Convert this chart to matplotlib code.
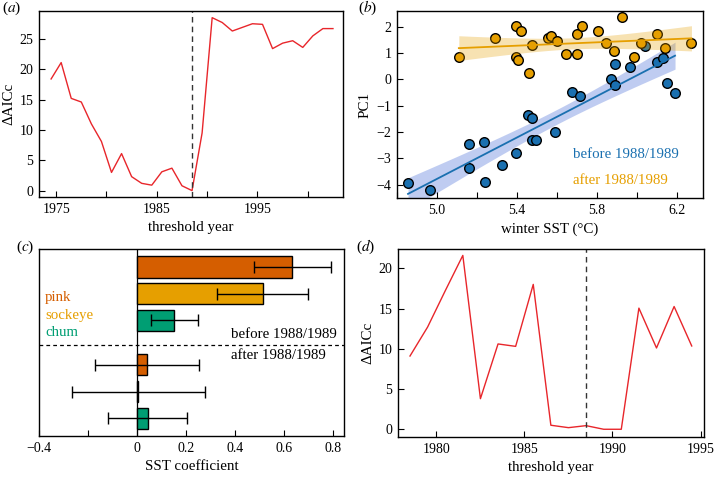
import numpy as np
import matplotlib
matplotlib.use("Agg")
import matplotlib.pyplot as plt

plt.rcParams['font.family'] = ['Liberation Serif', 'DejaVu Serif']
plt.rcParams['mathtext.fontset'] = 'stix'
plt.rcParams['axes.unicode_minus'] = True

# ---- panel (a) data ----
years_a = [1974.5, 1975.5, 1976.5, 1977.5, 1978.5, 1979.5, 1980.5, 1981.5, 1982.5, 1983.5,
           1984.5, 1985.5, 1986.5, 1987.5, 1988.5, 1989.5, 1990.5, 1991.5, 1992.5, 1993.5,
           1994.5, 1995.5, 1996.5, 1997.5, 1998.5, 1999.5, 2000.5, 2001.5, 2002.5]
daic_a = [18.4, 21.1, 15.2, 14.6, 11.0, 8.1, 3.0, 6.1, 2.3, 1.2,
          0.9, 3.1, 3.7, 0.8, 0.0, 9.5, 28.5, 27.7, 26.3, 26.9,
          27.5, 27.4, 23.4, 24.3, 24.7, 23.6, 25.5, 26.7, 26.7]
threshold_a = 1988.5

# ---- panel (b) data ----
sst_before = [4.855, 4.967, 5.159, 5.159, 5.234, 5.239, 5.325, 5.394, 5.456, 5.474,
              5.474, 5.497, 5.589, 5.677, 5.714, 5.872, 5.889, 5.889, 5.967, 6.04,
              6.10, 6.13, 6.15, 6.19]
pc1_before = [-3.93, -4.21, -2.46, -3.36, -2.37, -3.88, -3.26, -2.78, -1.36, -1.46,
              -2.31, -2.28, -1.99, -0.47, -0.62, 0.01, -0.22, 0.57, 0.48, 1.28,
              0.67, 0.82, -0.15, -0.53]
sst_after = [5.109, 5.289, 5.397, 5.419, 5.394, 5.405, 5.475, 5.459, 5.555, 5.572,
             5.60, 5.644, 5.702, 5.702, 5.725, 5.805, 5.847, 5.884, 5.925, 5.985,
             6.019, 6.10, 6.142, 6.272]
pc1_after = [0.84, 1.56, 2.04, 1.84, 0.86, 0.73, 1.30, 0.24, 1.58, 1.65,
             1.46, 0.96, 0.96, 1.71, 2.04, 1.85, 1.39, 1.09, 2.36, 0.84,
             1.39, 1.71, 1.18, 1.39]

# ---- panel (c) data ----
species = ['pink', 'sockeye', 'chum']
coef_before = [0.635, 0.514, 0.151]
lo_before = [0.479, 0.329, 0.059]
hi_before = [0.792, 0.699, 0.249]
coef_after = [0.041, 0.004, 0.044]
lo_after = [-0.170, -0.265, -0.118]
hi_after = [0.254, 0.278, 0.205]
c_xticks = [-0.4, -0.2, 0.0, 0.2, 0.4, 0.6, 0.8]
c_xticklabels = ['\u22120.4', '', '0', '0.2', '0.4', '0.6', '0.8']

# ---- panel (d) data ----
years_d = [1978.5, 1979.5, 1980.5, 1981.5, 1982.5, 1983.5, 1984.5, 1985.5, 1986.5,
           1987.5, 1988.5, 1989.5, 1990.5, 1991.5, 1992.5, 1993.5, 1994.5]
daic_d = [9.1, 12.7, 17.2, 21.6, 3.8, 10.6, 10.3, 18.0, 0.5,
          0.2, 0.45, 0.0, 0.0, 15.05, 10.1, 15.25, 10.35]
threshold_d = 1988.5

RED = '#e8262b'
BLUE = '#1a70b0'
ORANGE = '#e69f00'
VERM = '#d55e00'
GREEN = '#009e73'
spec_colors = [VERM, ORANGE, GREEN]

TICK_FS = 10
LAB_FS = 10.8
TXT_FS = 10.7

fig = plt.figure(figsize=(7.16, 4.80), dpi=100)
ax_a = fig.add_axes([0.0545, 0.5896, 0.4246, 0.3875])
ax_b = fig.add_axes([0.5545, 0.5875, 0.4274, 0.3896])
ax_c = fig.add_axes([0.0545, 0.0917, 0.426, 0.3896])
ax_d = fig.add_axes([0.5559, 0.0896, 0.4274, 0.3917])

for ax in (ax_a, ax_b, ax_c, ax_d):
    ax.tick_params(direction='in', length=4, width=0.8, labelsize=TICK_FS, pad=4)
    for s in ax.spines.values():
        s.set_linewidth(1.0)

# (a)
ax_a.plot(years_a, daic_a, color=RED, lw=1.0)
ax_a.axvline(threshold_a, color='#333333', lw=1.0, ls=(0, (4, 3)))
ax_a.set_xlim(1973.3, 2003.5)
ax_a.set_ylim(-1.05, 29.6)
ax_a.set_xticks([1975, 1980, 1985, 1990, 1995, 2000])
ax_a.set_xticklabels(['1975', '', '1985', '', '1995', ''])
ax_a.set_yticks([0, 5, 10, 15, 20, 25])
ax_a.set_xlabel('threshold year', fontsize=LAB_FS, labelpad=4)
ax_a.set_ylabel('\u0394AICc', fontsize=LAB_FS, labelpad=3)

# (b)
def fit_band(x, y):
    x = np.asarray(x); y = np.asarray(y)
    n = len(x)
    b, a = np.polyfit(x, y, 1)
    xs = np.linspace(x.min(), x.max(), 100)
    yh = a + b * xs
    resid = y - (a + b * x)
    s = np.sqrt(np.sum(resid ** 2) / (n - 2))
    sxx = np.sum((x - x.mean()) ** 2)
    se = s * np.sqrt(1.0 / n + (xs - x.mean()) ** 2 / sxx)
    return xs, yh, yh - 2.074 * se, yh + 2.074 * se

xs, yh, ylo, yhi = fit_band(sst_before, pc1_before)
ax_b.fill_between(xs, ylo, yhi, color='#4a6fd8', alpha=0.35, lw=0, zorder=1)
ax_b.plot(xs, yh, color=BLUE, lw=1.3, zorder=4)
xs2, yh2, ylo2, yhi2 = fit_band(sst_after, pc1_after)
ax_b.scatter(sst_before, pc1_before, s=48, color=BLUE, edgecolor='black', lw=1.0, zorder=2)
ax_b.scatter(sst_after, pc1_after, s=48, color=ORANGE, edgecolor='black', lw=1.0, zorder=2)
ax_b.fill_between(xs2, ylo2, yhi2, color=ORANGE, alpha=0.3, lw=0, zorder=3)
ax_b.plot(xs2, yh2, color=ORANGE, lw=1.3, zorder=4)
ax_b.set_xlim(4.80, 6.33)
ax_b.set_ylim(-4.5, 2.6)
ax_b.set_xticks([4.8, 5.0, 5.2, 5.4, 5.6, 5.8, 6.0, 6.2])
ax_b.set_xticklabels(['', '5.0', '', '5.4', '', '5.8', '', '6.2'])
ax_b.set_yticks([-4, -3, -2, -1, 0, 1, 2])
ax_b.set_xlabel('winter SST (\u00b0C)', fontsize=LAB_FS, labelpad=4)
ax_b.set_ylabel('PC1', fontsize=LAB_FS, labelpad=4)
ax_b.text(0.574, 0.23, 'before 1988/1989', color=BLUE, fontsize=TXT_FS, transform=ax_b.transAxes, va='center')
ax_b.text(0.574, 0.096, 'after 1988/1989', color=ORANGE, fontsize=TXT_FS, transform=ax_b.transAxes, va='center')

# (c)
pos_before = [0, 1, 2]
pos_after = [3.66, 4.66, 5.66]
for vals, lo, hi, pos in ((coef_before, lo_before, hi_before, pos_before),
                          (coef_after, lo_after, hi_after, pos_after)):
    vals = np.array(vals)
    xerr = np.array([vals - np.array(lo), np.array(hi) - vals])
    ax_c.barh(pos, vals, height=0.8, color=spec_colors, edgecolor='black', lw=1.0, zorder=2)
    ax_c.errorbar(vals, pos, xerr=xerr, fmt='none', ecolor='black', elinewidth=1.0,
                  capsize=4.5, capthick=1.0, zorder=3)
ax_c.axvline(0, color='black', lw=0.9, zorder=1)
ax_c.axhline(2.916, color='black', lw=0.9, ls=(0, (3, 2.5)), zorder=1)
ax_c.set_ylim(6.325, -0.675)
ax_c.set_xlim(-0.4, 0.846)
ax_c.set_yticks([])
ax_c.set_xticks(c_xticks)
ax_c.set_xticklabels(c_xticklabels)
ax_c.set_xlabel('SST coefficient', fontsize=LAB_FS, labelpad=4)
for i, (name, col) in enumerate(zip(species, spec_colors)):
    ax_c.text(0.02, 0.738 - i * 0.0935, name, color=col, fontsize=TXT_FS,
              transform=ax_c.transAxes, va='center')
ax_c.text(0.631, 0.54, 'before 1988/1989', fontsize=TXT_FS, transform=ax_c.transAxes, va='center')
ax_c.text(0.631, 0.428, 'after 1988/1989', fontsize=TXT_FS, transform=ax_c.transAxes, va='center')

# (d)
ax_d.plot(years_d, daic_d, color=RED, lw=1.0)
ax_d.axvline(threshold_d, color='#333333', lw=1.0, ls=(0, (4, 3)))
ax_d.set_xlim(1977.82, 1995.2)
ax_d.set_ylim(-0.96, 22.4)
ax_d.set_xticks([1980, 1985, 1990, 1995])
ax_d.set_yticks([0, 5, 10, 15, 20])
ax_d.set_xlabel('threshold year', fontsize=LAB_FS, labelpad=4)
ax_d.set_ylabel('\u0394AICc', fontsize=LAB_FS, labelpad=3)

# panel labels
for lab, x, y in (('a', 0.003, 0.983), ('b', 0.5, 0.983), ('c', 0.022, 0.485), ('d', 0.497, 0.485)):
    fig.text(x, y, '($\\mathit{%s}$)' % lab, fontsize=11, va='center', ha='left')

fig.savefig('out.png', dpi=100)
